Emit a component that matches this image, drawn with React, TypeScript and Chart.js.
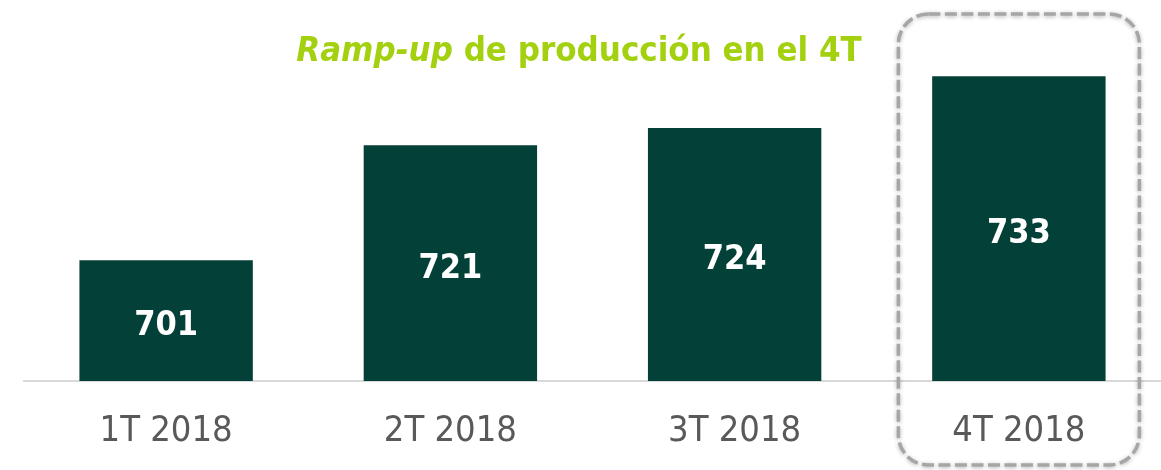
import React, { useEffect, useRef } from "react";
import { Chart, registerables } from "chart.js";

Chart.register(...registerables);

const categories = ["1T 2018", "2T 2018", "3T 2018", "4T 2018"];
const values = [701, 721, 724, 733];
const titleItalic = "Ramp-up";
const titleRest = " de producción en el 4T";
const highlightIndex = 3;

const FONT = "'DejaVu Sans Condensed', 'DejaVu Sans', sans-serif";
const BAR_COLOR = "#034037";
const TITLE_COLOR = "#A4D10F";

const decorPlugin = {
  id: "decor",
  afterDatasetsDraw(chart: any) {
    const ctx = chart.ctx as CanvasRenderingContext2D;
    const meta = chart.getDatasetMeta(0);
    const ys = chart.scales.y;
    const basePx = ys.getPixelForValue(ys.min);
    // value labels
    ctx.save();
    ctx.fillStyle = "#ffffff";
    ctx.font = `bold 34px ${FONT}`;
    ctx.textAlign = "center";
    ctx.textBaseline = "middle";
    meta.data.forEach((bar: any, i: number) => {
      const topPx = ys.getPixelForValue(values[i]);
      const cy = (topPx + basePx) / 2 + 6;
      ctx.fillText(String(values[i]), bar.x, cy);
    });
    ctx.restore();

    // title
    ctx.save();
    ctx.fillStyle = TITLE_COLOR;
    ctx.textBaseline = "alphabetic";
    ctx.textAlign = "left";
    const fi = `italic bold 34.5px ${FONT}`;
    const fr = `bold 34.5px ${FONT}`;
    ctx.font = fi;
    const w1 = ctx.measureText(titleItalic).width;
    ctx.font = fr;
    const w2 = ctx.measureText(titleRest).width;
    const cx = 579;
    const x = cx - (w1 + w2) / 2;
    ctx.font = fi;
    ctx.fillText(titleItalic, x, 61);
    ctx.font = fr;
    ctx.fillText(titleRest, x + w1, 61);
    ctx.restore();

    // dashed highlight box
    const xs = chart.scales.x;
    const hx = xs.getPixelForValue(highlightIndex);
    const left = hx - 120.5;
    const right = hx + 120.5;
    const top = 14;
    const bottom = 465;
    ctx.save();
    ctx.strokeStyle = "#a6a6a6";
    ctx.lineWidth = 3.5;
    ctx.setLineDash([12, 4.5]);
    ctx.shadowColor = "rgba(0,0,0,0.3)";
    ctx.shadowBlur = 4;
    ctx.shadowOffsetY = 1;
    ctx.beginPath();
    (ctx as any).roundRect(left, top, right - left, bottom - top, 30);
    ctx.stroke();
    ctx.restore();
  },
};

export default function App() {
  const ref = useRef<HTMLCanvasElement | null>(null);
  useEffect(() => {
    if (!ref.current) return;
    const chart = new Chart(ref.current, {
      type: "bar",
      data: {
        labels: categories,
        datasets: [
          {
            data: values,
            backgroundColor: BAR_COLOR,
            barPercentage: 0.61,
            categoryPercentage: 1,
          },
        ],
      },
      options: {
        animation: false,
        responsive: false,
        layout: { padding: { left: 24, right: 0, top: 36, bottom: 0 } },
        plugins: { legend: { display: false }, tooltip: { enabled: false }, title: { display: false } },
        scales: {
          x: {
            grid: { display: false, drawTicks: false },
            border: { display: true, color: "#d9d9d9", width: 2 },
            ticks: {
              color: "#595959",
              font: { family: FONT, size: 36 },
              padding: 29,
              maxRotation: 0,
            },
            afterFit: (scale: any) => {
              scale.height = 89;
            },
          },
          y: {
            display: false,
            min: 680,
            max: 740,
          },
        },
      },
      plugins: [decorPlugin],
    });
    return () => chart.destroy();
  }, []);
  return (
    <div style={{ position: "absolute", left: 0, top: 0, width: 1161, height: 470 }}>
      <canvas ref={ref} width={1161} height={470} style={{ width: 1161, height: 470 }} />
    </div>
  );
}
